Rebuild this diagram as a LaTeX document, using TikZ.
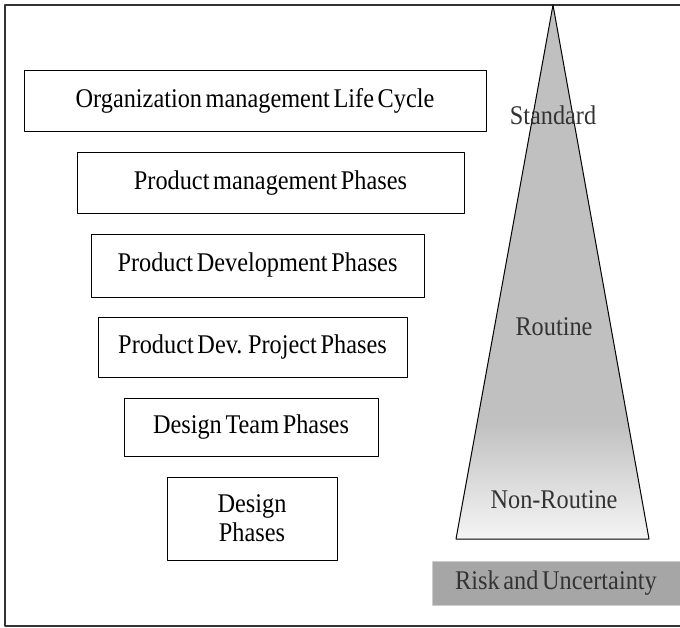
\documentclass[tikz,border=0pt]{standalone}
\usepackage{fontspec}
\setmainfont{Liberation Serif}[FakeStretch=0.9,WordSpace=0.6]
\definecolor{trigray}{RGB}{192,192,192}
\definecolor{riskgray}{RGB}{166,166,166}
\definecolor{riskedge}{RGB}{205,205,205}
\definecolor{lblgray}{RGB}{51,51,51}
\pgfdeclareverticalshading{trifade}{100bp}{color(0bp)=(white); color(25bp)=(white!96!black); color(36bp)=(trigray); color(100bp)=(trigray)}
\begin{document}
\begin{tikzpicture}[x=1pt,y=-1pt,line join=round,line cap=round,font=\fontsize{27}{29}\selectfont,
    phase/.style={draw,line width=1pt,inner sep=0pt,align=center},
    lbl/.style={text=lblgray,inner sep=0pt},
    risk/.style={draw=riskedge,fill=riskgray,line width=1pt,text=lblgray,inner sep=0pt}]
            \useasboundingbox (0,0) rectangle (680,627);
            \def\xmin{5} \def\xmax{680}
            \def\ymin{5} \def\ymax{626}
            \draw[line width=1.5pt,black!80] (\xmax,\ymin)--(\xmin,\ymin)--(\xmin,\ymax)--(\xmax,\ymax);
            % phase boxes
            \node[phase,minimum width=462pt,minimum height=61pt] (org) at (255,101) {Organization management Life Cycle};
            \node[phase,minimum width=387pt,minimum height=61pt] (prod) at (270.5,183) {Product management Phases};
            \node[phase,minimum width=333pt,minimum height=63pt] (dev) at (257.5,265.5) {Product Development Phases};
            \node[phase,minimum width=309pt,minimum height=60pt] (proj) at (252.5,347.5) {Product Dev. Project Phases};
            \node[phase,minimum width=254pt,minimum height=58pt] (team) at (251,427) {Design Team Phases};
            \node[phase,minimum width=170pt,minimum height=83pt] (design) at (252,518.5) {Design\\Phases};
            % triangle
            \coordinate (apex) at (553,5);
            \coordinate (bl) at (456,539);
            \coordinate (br) at (649,539);
            \draw[line width=1pt,shading=trifade] (apex)--(br)--(bl)--cycle;
            \node[lbl] (std) at (553,115) {Standard};
            \node[lbl] (rtn) at (554,327) {Routine};
            \node[lbl] (nrt) at (554,500) {Non-Routine};
            %\node at (553,560) {};
            \node[risk,minimum width=248pt,minimum height=44pt] (unc) at (556,583) {Risk and Uncertainty};
        \end{tikzpicture}
\end{document}
